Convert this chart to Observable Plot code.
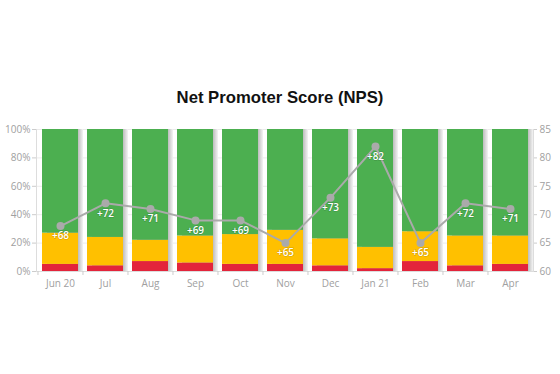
<!DOCTYPE html>
<html><head><meta charset="utf-8">
<script src="https://cdn.jsdelivr.net/npm/d3@7"></script>
<script src="https://cdn.jsdelivr.net/npm/@observablehq/plot@0.6"></script>
<style>
body{margin:0;background:#fff;width:560px;height:374px;overflow:hidden}
#title{box-sizing:border-box;height:110px;padding-top:88px;text-align:center;font:bold 16.7px "Liberation Sans",Arial,sans-serif;color:#111;line-height:normal}
#chart svg{display:block}
</style></head><body>
<div id="title">Net Promoter Score (NPS)</div>
<div id="chart"></div>
<script>
const months = ["Jun 20","Jul","Aug","Sep","Oct","Nov","Dec","Jan 21","Feb","Mar","Apr"];
const detractors = [5,4,7,6,5,5,4,2,7,4,5];
const passives   = [22,20,15,19,21,24,19,15,21,21,20];
const promoters  = [73,76,78,75,74,71,77,83,72,75,75];
const nps        = [68,72,71,69,69,65,73,82,65,72,71];
const pctTicks = [0,20,40,60,80,100];
const npsMin = 60, npsMax = 85;

const rows = [];
months.forEach((m,i)=>{
  rows.push({month:m, group:"Detractors", value:detractors[i]});
  rows.push({month:m, group:"Passives", value:passives[i]});
  rows.push({month:m, group:"Promoters", value:promoters[i]});
});
const npsRows = months.map((m,i)=>({month:m, y:(nps[i]-npsMin)/(npsMax-npsMin)*100, label:"+"+nps[i]}));

const W=560, H=264, ml=36, mr=27, pi=0.21, po=0.12;
const step = (W-ml-mr)/(months.length-pi+2*po);

const chart = Plot.plot({
  width:W, height:H, marginLeft:ml, marginRight:mr, marginTop:19, marginBottom:103,
  style:{fontFamily:"'Open Sans', sans-serif", fontSize:"10px", color:"#999", background:"#fff"},
  x:{domain:months, paddingInner:pi, paddingOuter:po, label:null},
  y:{domain:[0,100], label:null},
  color:{domain:["Detractors","Passives","Promoters"], range:["#e3243b","#ffc000","#4caf50"]},
  marks:[
    Plot.gridY(pctTicks,{stroke:"#ebebeb", strokeOpacity:1}),
    Plot.barY(months,{x:d=>d, y1:0, y2:100, dx:5, fill:"url(#barShadow)"}),
    Plot.barY(rows, Plot.stackY({x:"month", y:"value", fill:"group", order:null})),
    Plot.frame({anchor:"left", stroke:"#ddd"}),
    Plot.frame({anchor:"right", stroke:"#ddd"}),
    Plot.frame({anchor:"bottom", stroke:"#ddd"}),
    Plot.axisY(pctTicks,{anchor:"left", tickFormat:d=>d+"%", tickSize:4, tickPadding:2, stroke:"#ccc", fill:"#a0a0a0", label:null}),
    Plot.axisY(pctTicks,{anchor:"right", tickFormat:d=>String(npsMin + d/100*(npsMax-npsMin)), tickSize:3, tickPadding:3, stroke:"#ccc", fill:"#a0a0a0", label:null}),
    Plot.axisX({tickSize:0, tickPadding:8, fill:"#a0a0a0", label:null}),
    Plot.axisX({tickSize:4, tickFormat:()=>"", dx:-step/2, stroke:"#ccc", label:null}),
    Plot.line(npsRows,{x:"month", y:"y", stroke:"#aaa", strokeWidth:2}),
    Plot.dot(npsRows,{x:"month", y:"y", r:4, fill:"#aaa", stroke:"none"}),
    Plot.text(npsRows,{x:"month", y:"y", text:"label", dy:10, fill:"white", fontSize:10, fontWeight:600, stroke:"rgba(0,0,0,0.15)", strokeWidth:1.5, paintOrder:"stroke"})
  ]
});

const svgEl = chart.tagName.toLowerCase()==="svg" ? chart : chart.querySelector("svg");
const defs = document.createElementNS("http://www.w3.org/2000/svg","defs");
defs.innerHTML = '<linearGradient id="barShadow" x1="0" x2="1" y1="0" y2="0">'
  + '<stop offset="0" stop-color="#bcbcbc"/><stop offset="0.86" stop-color="#bcbcbc"/>'
  + '<stop offset="1" stop-color="#f4f4f4"/></linearGradient>';
svgEl.insertBefore(defs, svgEl.firstChild);
document.getElementById("chart").appendChild(chart);
</script>
</body></html>
